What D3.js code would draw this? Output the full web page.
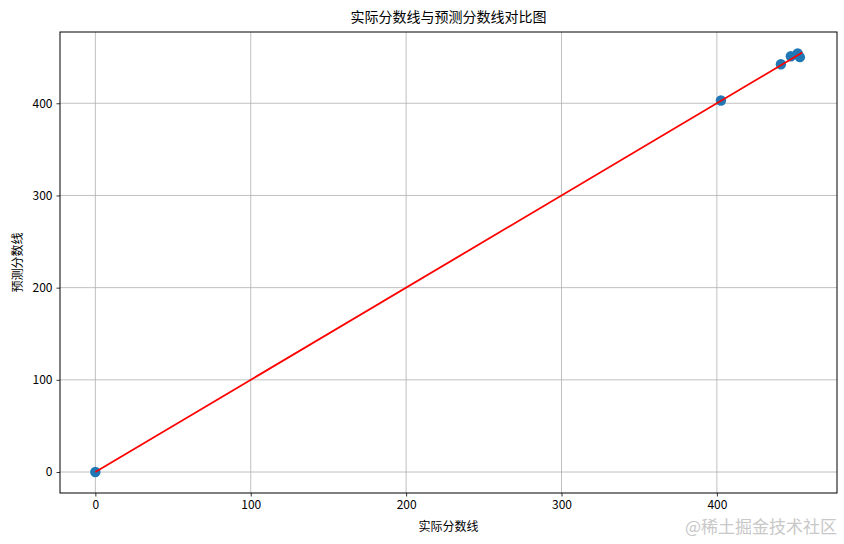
<!DOCTYPE html>
<html>
<head>
<meta charset="utf-8">
<script src="https://cdn.jsdelivr.net/npm/d3@7"></script>
<style>
  body { margin: 0; background: #fff; }
  text { font-family: "Noto Sans CJK SC", sans-serif; }
</style>
</head>
<body>
<svg width="844" height="544"></svg>
<script>
// values
var actual    = [0, 402.6, 441.2, 447.6, 452, 453.4];
var predicted = [0, 403, 442.3, 451, 454, 450];
var lineEnds  = [0, 455];
var xTicks = [0, 100, 200, 300, 400];
var yTicks = [0, 100, 200, 300, 400];

var svg = d3.select("svg");
var margin = {left: 60, right: 7, top: 32, bottom: 51};
var W = 844, H = 544;

var lo = -22.75, hi = 477.3;
var x = d3.scaleLinear().domain([lo, hi]).range([margin.left, W - margin.right]);
var y = d3.scaleLinear().domain([lo, hi]).range([H - margin.bottom, margin.top]);

// grid
var grid = svg.append("g");
grid.selectAll(".gx").data(xTicks).enter().append("line")
    .attr("x1", function(d) { return x(d); }).attr("x2", function(d) { return x(d); })
    .attr("y1", margin.top).attr("y2", H - margin.bottom)
    .attr("stroke", "#b0b0b0").attr("stroke-width", 0.8);
grid.selectAll(".gy").data(yTicks).enter().append("line")
    .attr("y1", function(d) { return y(d); }).attr("y2", function(d) { return y(d); })
    .attr("x1", margin.left).attr("x2", W - margin.right)
    .attr("stroke", "#b0b0b0").attr("stroke-width", 0.8);

// points
var pts = actual.map(function(a, i) { return [a, predicted[i]]; });
svg.append("g").selectAll("circle").data(pts).enter().append("circle")
    .attr("cx", function(d) { return x(d[0]); })
    .attr("cy", function(d) { return y(d[1]); })
    .attr("r", 5.2)
    .attr("fill", "#1f77b4");

// ideal line
svg.append("line")
    .attr("x1", x(lineEnds[0])).attr("y1", y(lineEnds[0]))
    .attr("x2", x(lineEnds[1])).attr("y2", y(lineEnds[1]))
    .attr("stroke", "red").attr("stroke-width", 1.8);

// axes
var xAxis = svg.append("g").attr("transform", "translate(0," + (H - margin.bottom) + ")")
    .call(d3.axisBottom(x).tickValues(xTicks).tickSize(3.5).tickPadding(4).tickFormat(d3.format("d")));
var yAxis = svg.append("g").attr("transform", "translate(" + margin.left + ",0)")
    .call(d3.axisLeft(y).tickValues(yTicks).tickSize(3.5).tickPadding(4).tickFormat(d3.format("d")));
[xAxis, yAxis].forEach(function(a) {
  a.select(".domain").remove();
  a.selectAll("text").attr("font-size", 12).attr("fill", "#000")
    .style("font-family", "'Noto Sans CJK SC', sans-serif");
  a.selectAll("line").attr("stroke", "#000").attr("stroke-width", 0.8);
});

// frame
svg.append("rect")
    .attr("x", margin.left).attr("y", margin.top)
    .attr("width", W - margin.left - margin.right)
    .attr("height", H - margin.top - margin.bottom)
    .attr("fill", "none").attr("stroke", "#000").attr("stroke-width", 1);

// titles
svg.append("text").attr("x", (margin.left + W - margin.right) / 2).attr("y", 22)
    .attr("text-anchor", "middle").attr("font-size", 14).text("实际分数线与预测分数线对比图");
svg.append("text").attr("x", (margin.left + W - margin.right) / 2).attr("y", 531)
    .attr("text-anchor", "middle").attr("font-size", 12).text("实际分数线");
svg.append("text").attr("transform", "translate(22," + ((margin.top + H - margin.bottom) / 2) + ") rotate(-90)")
    .attr("text-anchor", "middle").attr("font-size", 12).text("预测分数线");

// watermark
svg.append("text").attr("x", 837).attr("y", 533).attr("text-anchor", "end")
    .attr("font-size", 17).attr("fill", "#c8c8c8").text("@稀土掘金技术社区");
</script>
</body>
</html>
